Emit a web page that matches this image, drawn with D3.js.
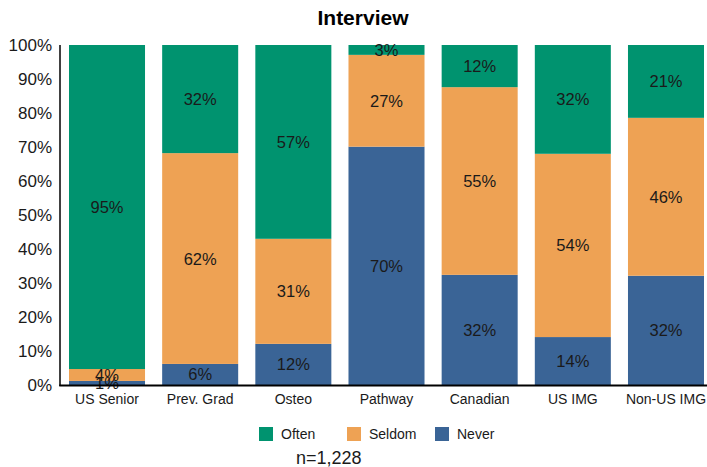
<!DOCTYPE html>
<html>
<head>
<meta charset="utf-8">
<script src="https://cdn.jsdelivr.net/npm/d3@7"></script>
<style>
  html, body { margin: 0; padding: 0; background: #fff; }
  svg { display: block; font-family: "Liberation Sans", Arial, sans-serif; }
</style>
</head>
<body>
<svg id="chart" width="707" height="467"></svg>
<script>
const categories = ["US Senior", "Prev. Grad", "Osteo", "Pathway", "Canadian", "US IMG", "Non-US IMG"];
const never  = [1.2, 6.2, 12.1, 70.1, 32.4, 14.1, 32.1];
const seldom = [3.5, 62.0, 30.9, 27.0, 55.2, 53.9, 46.4];
const often  = [95.3, 31.8, 57.0, 2.9, 12.4, 32.0, 21.4];
const seriesNames = ["Never", "Seldom", "Often"];
const legendOrder = ["Often", "Seldom", "Never"];
const yTicks = [0, 0.1, 0.2, 0.3, 0.4, 0.5, 0.6, 0.7, 0.8, 0.9, 1.0];
const colors = { Often: "#00936F", Seldom: "#EEA254", Never: "#3A6496" };

const rows = categories.map((c, i) => ({ cat: c, Never: never[i], Seldom: seldom[i], Often: often[i] }));
const stack = d3.stack().keys(seriesNames).offset(d3.stackOffsetExpand);
const stacked = stack(rows);

const svg = d3.select("#chart");
const plotTop = 45, plotBottom = 385;
const x = d3.scaleBand().domain(categories).range([69, 704]).paddingInner(0.184).paddingOuter(0);
const y = d3.scaleLinear().domain([0, 1]).range([plotBottom, plotTop]);

// title
svg.append("text").attr("x", 363).attr("y", 25).attr("text-anchor", "middle")
  .style("font-size", "21px").style("font-weight", "bold").attr("fill", "#000").text("Interview");

// bars
const g = svg.append("g");
stacked.forEach(s => {
  const key = s.key;
  g.selectAll(null).data(s).enter().append("rect")
    .attr("x", d => x(d.data.cat))
    .attr("width", x.bandwidth())
    .attr("y", d => y(d[1]))
    .attr("height", d => y(d[0]) - y(d[1]))
    .attr("fill", colors[key]);
});
// labels
stacked.forEach(s => {
  const key = s.key;
  g.selectAll(null).data(s).enter().append("text")
    .attr("x", d => x(d.data.cat) + x.bandwidth() / 2)
    .attr("y", d => (y(d[0]) + y(d[1])) / 2)
    .attr("text-anchor", "middle")
    .attr("dominant-baseline", "central")
    .style("font-size", "16.5px")
    .attr("fill", "#1a1a1a")
    .text(d => Math.round(d.data[key]) + "%");
});

// y axis
const yAxis = d3.axisLeft(y).tickValues(yTicks).tickFormat(d3.format(".0%")).tickSize(0).tickPadding(8);
const ya = svg.append("g").attr("transform", "translate(60,0)").call(yAxis);
ya.select(".domain").remove();
ya.selectAll("text").style("font-size", "17px").style("font-family", "Liberation Sans, Arial, sans-serif").attr("fill", "#1a1a1a");
svg.append("line").attr("x1", 60).attr("x2", 60).attr("y1", plotTop).attr("y2", plotBottom + 1)
  .attr("stroke", "#000").attr("stroke-width", 1.5);

// x axis
const xAxis = d3.axisBottom(x).tickSize(0).tickPadding(9);
const xa = svg.append("g").attr("transform", `translate(0,${plotBottom})`).call(xAxis);
xa.select(".domain").remove();
xa.selectAll("text").style("font-size", "14px").style("font-family", "Liberation Sans, Arial, sans-serif").attr("fill", "#1a1a1a");
svg.append("line").attr("x1", 59.25).attr("x2", 707).attr("y1", plotBottom + 0.5).attr("y2", plotBottom + 0.5)
  .attr("stroke", "#000").attr("stroke-width", 2);

// legend
const legendX = { Often: 259, Seldom: 347, Never: 435 };
const lg = svg.append("g");
legendOrder.forEach(k => {
  lg.append("rect").attr("x", legendX[k]).attr("y", 427).attr("width", 14).attr("height", 14).attr("fill", colors[k]);
  lg.append("text").attr("x", legendX[k] + 22).attr("y", 434).attr("dominant-baseline", "central")
    .style("font-size", "14px").attr("fill", "#1a1a1a").text(k);
});

// footnote
svg.append("text").attr("x", 296).attr("y", 464).style("font-size", "18px").attr("fill", "#1a1a1a").text("n=1,228");
</script>
</body>
</html>
